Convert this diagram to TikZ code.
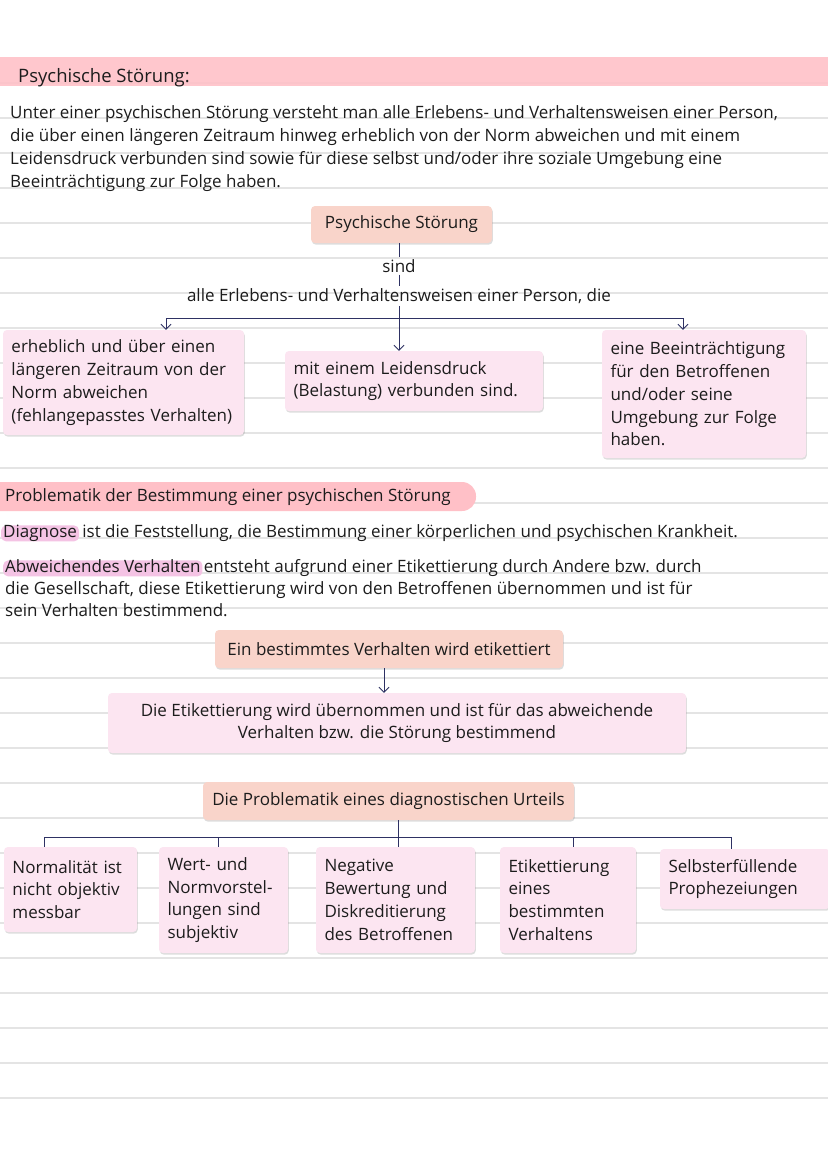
\documentclass[tikz,border=0pt]{standalone}
\usepackage{fontspec}
\setmainfont{Open Sans}
\usetikzlibrary{arrows.meta,shadows,calc}
\definecolor{ink}{HTML}{1C1C1C}
\definecolor{rulec}{HTML}{E4E4E4}
\definecolor{bandc}{HTML}{FFC0C7}
\definecolor{peachc}{HTML}{F9D4CA}
\definecolor{pinkc}{HTML}{FCE5F1}
\definecolor{hlc}{HTML}{F4C3E4}
\definecolor{connc}{HTML}{2E3163}
\newcommand\txtsize{\fontsize{17}{22.8}\selectfont}
\tikzset{
  txt/.style={anchor=base west, inner sep=0pt, text=ink, font=\txtsize},
  lbl/.style={inner sep=2pt, text=ink, font=\txtsize},
  shad/.style={drop shadow={shadow xshift=0.8pt, shadow yshift=-1.6pt, opacity=0.22, fill=black!60}},
  peachbox/.style={fill=peachc, rounded corners=4pt, shad, align=center, inner sep=0pt, text=ink, font=\txtsize},
  pinkbox/.style={fill=pinkc, rounded corners=4pt, shad, align=left, inner xsep=8.5pt, inner ysep=0pt, text=ink, font=\txtsize},
  pinkcbox/.style={fill=pinkc, rounded corners=4pt, shad, align=center, inner sep=0pt, text=ink, font=\txtsize},
  hl/.style={fill=hlc, rounded corners=5pt, anchor=base west, inner xsep=2pt, inner ysep=0.6pt, text height=11pt, text depth=3.8pt, text=ink, font=\txtsize},
  conn/.style={draw=connc, line width=0.9pt},
  arr/.style={conn, -{Straight Barb[length=5pt,width=10pt]}},
}
\begin{document}
\begin{tikzpicture}[x=1pt,y=-1pt]
\useasboundingbox (0,0) rectangle (828,1171);
\fill[white] (0,0) rectangle (828,1171);
% ruled lines
\foreach \k in {0,...,29} \draw[rulec, line width=1.3pt] (0,{83+35*\k}) -- (828,{83+35*\k});
% header band
\fill[bandc, fill opacity=0.88] (0,57) rectangle (828,86);
\node[txt, font=\fontsize{18.5}{20}\selectfont] (title) at (18,82) {Psychische Störung:};
% paragraph
\node[txt] (p1) at (10,118) {Unter einer psychischen Störung versteht man alle Erlebens- und Verhaltensweisen einer Person,};
\node[txt] (p2) at (10,141) {die über einen längeren Zeitraum hinweg erheblich von der Norm abweichen und mit einem};
\node[txt] (p3) at (10,164) {Leidensdruck verbunden sind sowie für diese selbst und/oder ihre soziale Umgebung eine};
\node[txt] (p4) at (10,187) {Beeinträchtigung zur Folge haben.};
% first diagram
\node[peachbox, minimum width=181pt, minimum height=37pt] (ps) at (401.5,224.5) {Psychische Störung};
\node[lbl] (sind) at (399,266) {sind};
\node[lbl] (alle) at (399,296) {alle Erlebens- und Verhaltensweisen einer Person, die};
\node[pinkbox, text width=224pt, minimum height=105pt] (b1) at (123.5,382.5)
  {erheblich und über einen\\längeren Zeitraum von der\\Norm abweichen\\(fehlangepasstes Verhalten)};
\node[pinkbox, text width=241pt, minimum height=60pt] (b2) at (414,381)
  {mit einem Leidensdruck\\(Belastung) verbunden sind.};
\node[pinkbox, text width=187pt, minimum height=128pt] (b3) at (704,394)
  {eine Beeinträchtigung\\für den Betroffenen\\und/oder seine\\Umgebung zur Folge\\haben.};
\draw[conn] (sind.north |- ps.south) -- (sind.north);
\draw[conn] (sind.south) -- (alle.north);
\coordinate (hl) at (166,318);
\coordinate (hr) at (683,318);
\draw[conn] (hl) -- (hr);
\draw[arr] (hl) -- (hl |- b1.north);
\draw[arr] (hr) -- (hr |- b3.north);
\draw[arr] (alle.south) -- (alle.south |- b2.north);
% section 2
\fill[bandc] (-20,482) [rounded corners=14pt] -- (476,482) -- (476,511) [sharp corners] -- (-20,511) -- cycle;
\node[txt] (sec2) at (5,501) {Problematik der Bestimmung einer psychischen Störung};
\node[hl] (diag) at (1,537) {Diagnose};
\node[txt] (diagt) at ($(diag.base east)+(3,0)$) {ist die Feststellung, die Bestimmung einer körperlichen und psychischen Krankheit.};
\node[hl] (abw) at (3,572) {Abweichendes Verhalten};
\node[txt] (abwt) at ($(abw.base east)+(1,0)$) {entsteht aufgrund einer Etikettierung durch Andere bzw. durch};
\node[txt] (q2) at (5,594) {die Gesellschaft, diese Etikettierung wird von den Betroffenen übernommen und ist für};
\node[txt] (q3) at (5,616) {sein Verhalten bestimmend.};
\node[peachbox, minimum width=348pt, minimum height=38pt] (e1) at (389,649) {Ein bestimmtes Verhalten wird etikettiert};
\node[pinkcbox, minimum width=578pt, minimum height=60pt] (e2) at (397,723)
  {Die Etikettierung wird übernommen und ist für das abweichende\\Verhalten bzw. die Störung bestimmend};
\coordinate (ea) at (384,668);
\draw[arr] (ea |- e1.south) -- (ea |- e2.north);
% third diagram
\node[peachbox, minimum width=371pt, minimum height=38pt] (pu) at (388.5,801) {Die Problematik eines diagnostischen Urteils};
\node[pinkbox, text width=116pt, minimum height=85pt] (c1) at (70.5,889.5) {Normalität ist\\nicht objektiv\\messbar};
\node[pinkbox, text width=112pt, minimum height=106pt] (c2) at (223.5,900) {Wert- und\\Normvorstel-\\lungen sind\\subjektiv};
\node[pinkbox, text width=142pt, minimum height=106pt] (c3) at (395.5,900) {Negative\\Bewertung und\\Diskreditierung\\des Betroffenen};
\node[pinkbox, text width=119pt, minimum height=106pt] (c4) at (568,900) {Etikettierung\\eines\\bestimmten\\Verhaltens};
\node[pinkbox, text width=153pt, minimum height=60pt] (c5) at (745,879) {Selbsterfüllende\\Prophezeiungen};
\coordinate (t0) at (398,837);
\coordinate (t1) at (44,837);
\coordinate (t2) at (218,837);
\coordinate (t4) at (573,837);
\coordinate (t5) at (731,837);
\draw[conn] (t0 |- pu.south) -- (t0);
\draw[conn] (t1) -- (t5);
\draw[conn] (t1) -- (t1 |- c1.north);
\draw[conn] (t2) -- (t2 |- c2.north);
\draw[conn] (t0) -- (t0 |- c3.north);
\draw[conn] (t4) -- (t4 |- c4.north);
\draw[conn] (t5) -- (t5 |- c5.north);
\end{tikzpicture}
\end{document}
